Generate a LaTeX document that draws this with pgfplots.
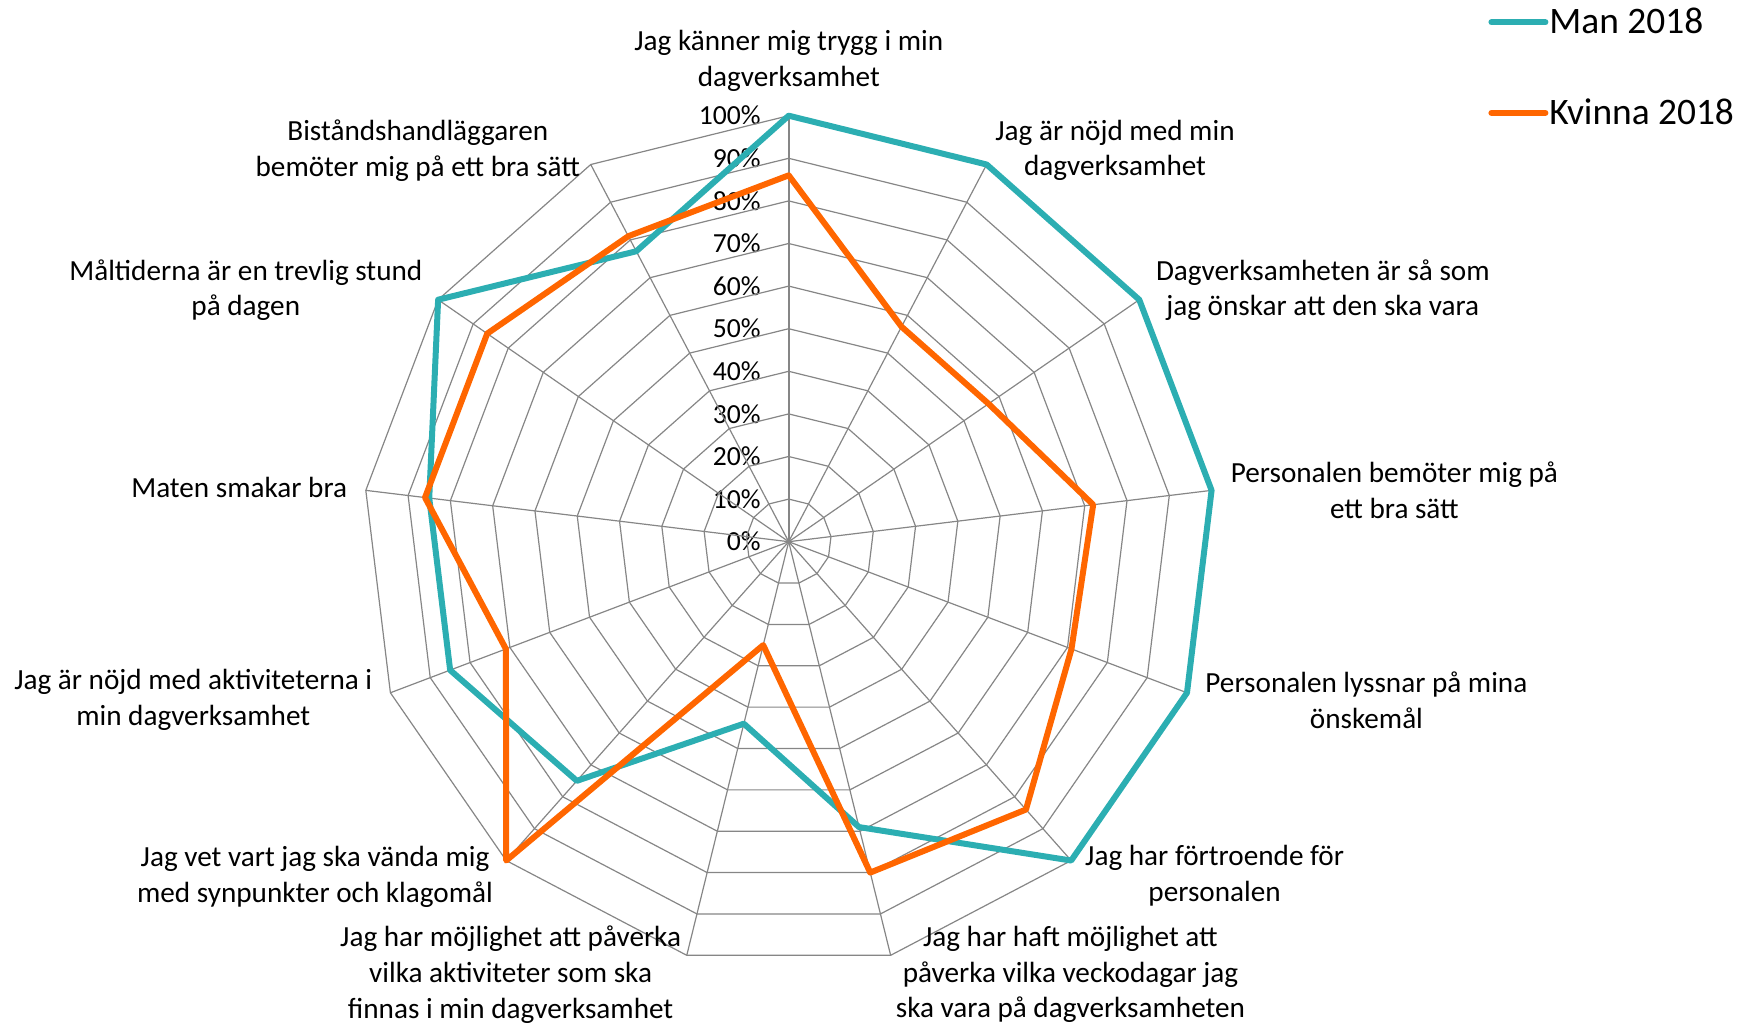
\documentclass[border=0pt]{standalone}
\usepackage{fontspec}
\setmainfont{Carlito}
\usepackage{pgfplots}
\pgfplotsset{compat=1.18}
\usepgfplotslibrary{polar}
\definecolor{manc}{RGB}{44,174,178}
\definecolor{kvc}{RGB}{255,102,0}
\definecolor{webc}{RGB}{134,134,134}
\begin{document}
\begin{tikzpicture}
\path[use as bounding box] (0,0) rectangle (876pt,512pt);
\foreach \v [count=\i from 0] in {0,10,20,...,100}
  \node[anchor=east, inner sep=0pt, font=\fontsize{13.8}{15}\selectfont] at (380.5pt,{241.15pt+\i*21.3pt}) {\v\%};
\begin{polaraxis}[
  at={(394.35pt,241.15pt)}, anchor=center,
  scale only axis, width=426pt, height=426pt,
  ymin=0, ymax=100, xmin=0, xmax=360,
  hide axis, clip=false,
  legend style={at={(1.3208,1.128)}, anchor=north west, draw=none, fill=none,
    inner sep=0pt, font=\fontsize{18.7}{21}\selectfont, row sep=30pt,
    nodes={inner sep=0.5pt, anchor=west}},
  legend cell align=left,
  legend image code/.code={\draw[#1, line cap=round] (0pt,0pt) -- (27pt,0pt);},
]
\pgfplotsinvokeforeach{10,20,30,40,50,60,70,80,90,100}{
  \addplot[webc, line width=0.6pt, forget plot] coordinates {(90,#1) (62.3077,#1) (34.6154,#1) (6.9231,#1) (339.2308,#1) (311.5385,#1) (283.8462,#1) (256.1538,#1) (228.4615,#1) (200.7692,#1) (173.0769,#1) (145.3846,#1) (117.6923,#1) (90,#1)};
}
\pgfplotsinvokeforeach{62.3077,34.6154,6.9231,339.2308,311.5385,283.8462,256.1538,228.4615,200.7692,173.0769,145.3846,117.6923}{
  \addplot[webc, line width=0.6pt, forget plot] coordinates {(#1,0) (#1,100)};
}
\addplot[webc, line width=0.9pt, forget plot] coordinates {(90,0) (90,100)};
% Man 2018
\addplot[manc, line width=3pt, line join=round, line cap=round] coordinates {(90,100) (62.3077,100) (34.6154,100) (6.9231,100) (339.2308,100) (311.5385,100) (283.8462,69) (256.1538,44) (228.4615,75) (200.7692,85) (173.0769,85) (145.3846,100) (117.6923,77) (90,100)};
% Kvinna 2018
\addplot[kvc, line width=3pt, line join=round, line cap=round] coordinates {(90,86) (62.3077,57) (34.6154,57) (6.9231,72) (339.2308,71) (311.5385,84) (283.8462,80) (256.1538,25) (228.4615,100) (200.7692,71) (173.0769,86) (145.3846,86) (117.6923,81) (90,86)};
\legend{Man 2018, Kvinna 2018}
\end{polaraxis}
\tikzset{lab/.style={align=center, font=\fontsize{14.6}{17.9}\selectfont, inner sep=0pt}}
\node[lab] at (394.4pt,481.5pt) {Jag känner mig trygg i min\\dagverksamhet};
\node[lab] at (557.5pt,436.8pt) {Jag är nöjd med min\\dagverksamhet};
\node[lab] at (661.4pt,366.9pt) {Dagverksamheten är så som\\jag önskar att den ska vara};
\node[lab] at (697.2pt,266.9pt) {Personalen bemöter mig på\\ett bra sätt};
\node[lab] at (683.2pt,161.9pt) {Personalen lyssnar på mina\\önskemål};
\node[lab] at (607.3pt,74.2pt) {Jag har förtroende för\\personalen};
\node[lab] at (535.2pt,24.8pt) {Jag har haft möjlighet att\\påverka vilka veckodagar jag\\ska vara på dagverksamheten};
\node[lab] at (255.3pt,24.8pt) {Jag har möjlighet att påverka\\vilka aktiviteter som ska\\finnas i min dagverksamhet};
\node[lab] at (157.5pt,73.6pt) {Jag vet vart jag ska vända mig\\med synpunkter och klagomål};
\node[lab] at (96.6pt,161.9pt) {Jag är nöjd med aktiviteterna i\\min dagverksamhet};
\node[lab] at (119.6pt,268.4pt) {Maten smakar bra};
\node[lab] at (122.9pt,366.9pt) {Måltiderna är en trevlig stund\\på dagen};
\node[lab] at (208.9pt,436.8pt) {Biståndshandläggaren\\bemöter mig på ett bra sätt};
\end{tikzpicture}
\end{document}
